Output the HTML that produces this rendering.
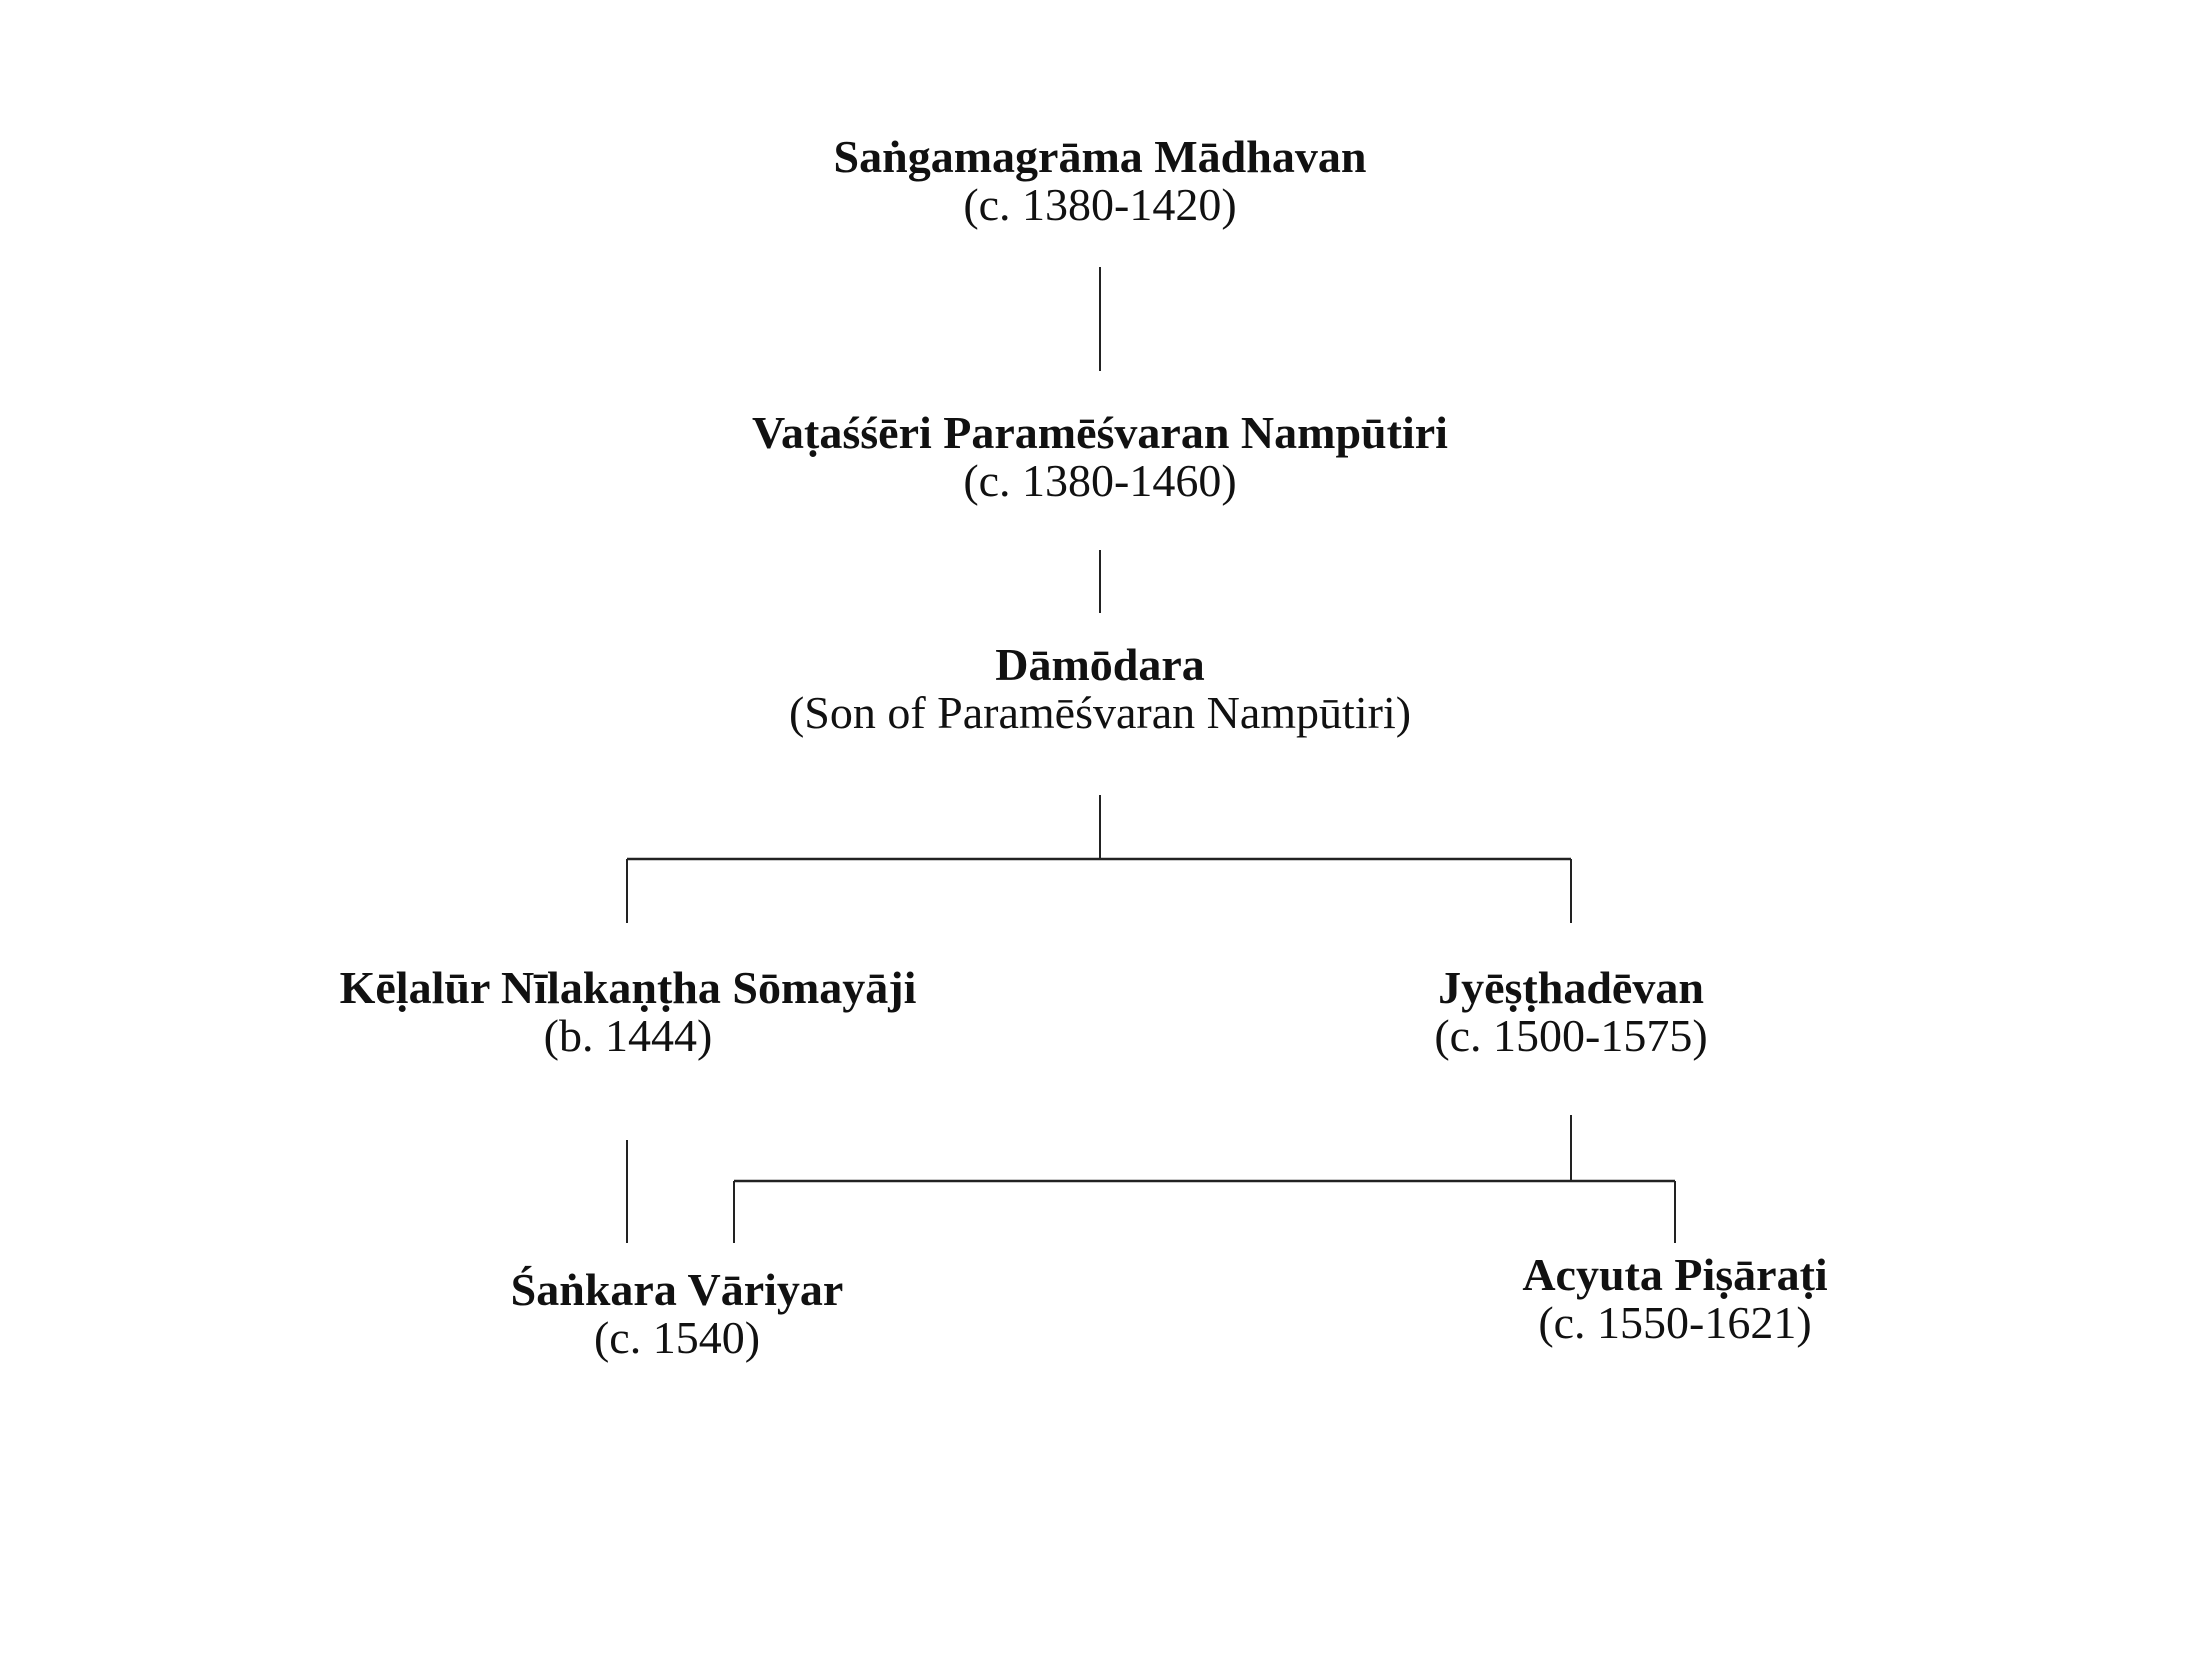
<!DOCTYPE html>
<html><head><meta charset="utf-8"><style>
html,body{margin:0;padding:0;background:#fff;}
svg{display:block;}
text{font-family:"Liberation Serif","DejaVu Serif",serif;font-size:46px;fill:#111;text-anchor:middle;}
.b{font-weight:bold;}
line{stroke:#222;stroke-width:2;}
</style></head><body>
<svg width="2193" height="1668" viewBox="0 0 2193 1668" xmlns="http://www.w3.org/2000/svg">
<text class="b" x="1100" y="172">Saṅgamagrāma Mādhavan</text>
<text x="1100" y="220">(c. 1380-1420)</text>
<line x1="1100" y1="267" x2="1100" y2="371"/>
<text class="b" x="1100" y="448">Vaṭaśśēri Paramēśvaran Nampūtiri</text>
<text x="1100" y="496">(c. 1380-1460)</text>
<line x1="1100" y1="550" x2="1100" y2="613"/>
<text class="b" x="1100" y="680">Dāmōdara</text>
<text x="1100" y="728">(Son of Paramēśvaran Nampūtiri)</text>
<line x1="1100" y1="795" x2="1100" y2="859"/>
<line x1="627" y1="859" x2="1571" y2="859" style="stroke-width:2.5"/>
<line x1="627" y1="859" x2="627" y2="923"/>
<line x1="1571" y1="859" x2="1571" y2="923"/>
<text class="b" x="628" y="1003">Kēḷalūr Nīlakaṇṭha Sōmayāji</text>
<text x="628" y="1051">(b. 1444)</text>
<text class="b" x="1571" y="1003">Jyēṣṭhadēvan</text>
<text x="1571" y="1051">(c. 1500-1575)</text>
<line x1="1571" y1="1115" x2="1571" y2="1181"/>
<line x1="734" y1="1181" x2="1675" y2="1181" style="stroke-width:2.5"/>
<line x1="734" y1="1181" x2="734" y2="1243"/>
<line x1="1675" y1="1181" x2="1675" y2="1243"/>
<line x1="627" y1="1140" x2="627" y2="1243"/>
<text class="b" x="677" y="1305">Śaṅkara Vāriyar</text>
<text x="677" y="1353">(c. 1540)</text>
<text class="b" x="1675" y="1290">Acyuta Piṣāraṭi</text>
<text x="1675" y="1338">(c. 1550-1621)</text>
</svg>
</body></html>
